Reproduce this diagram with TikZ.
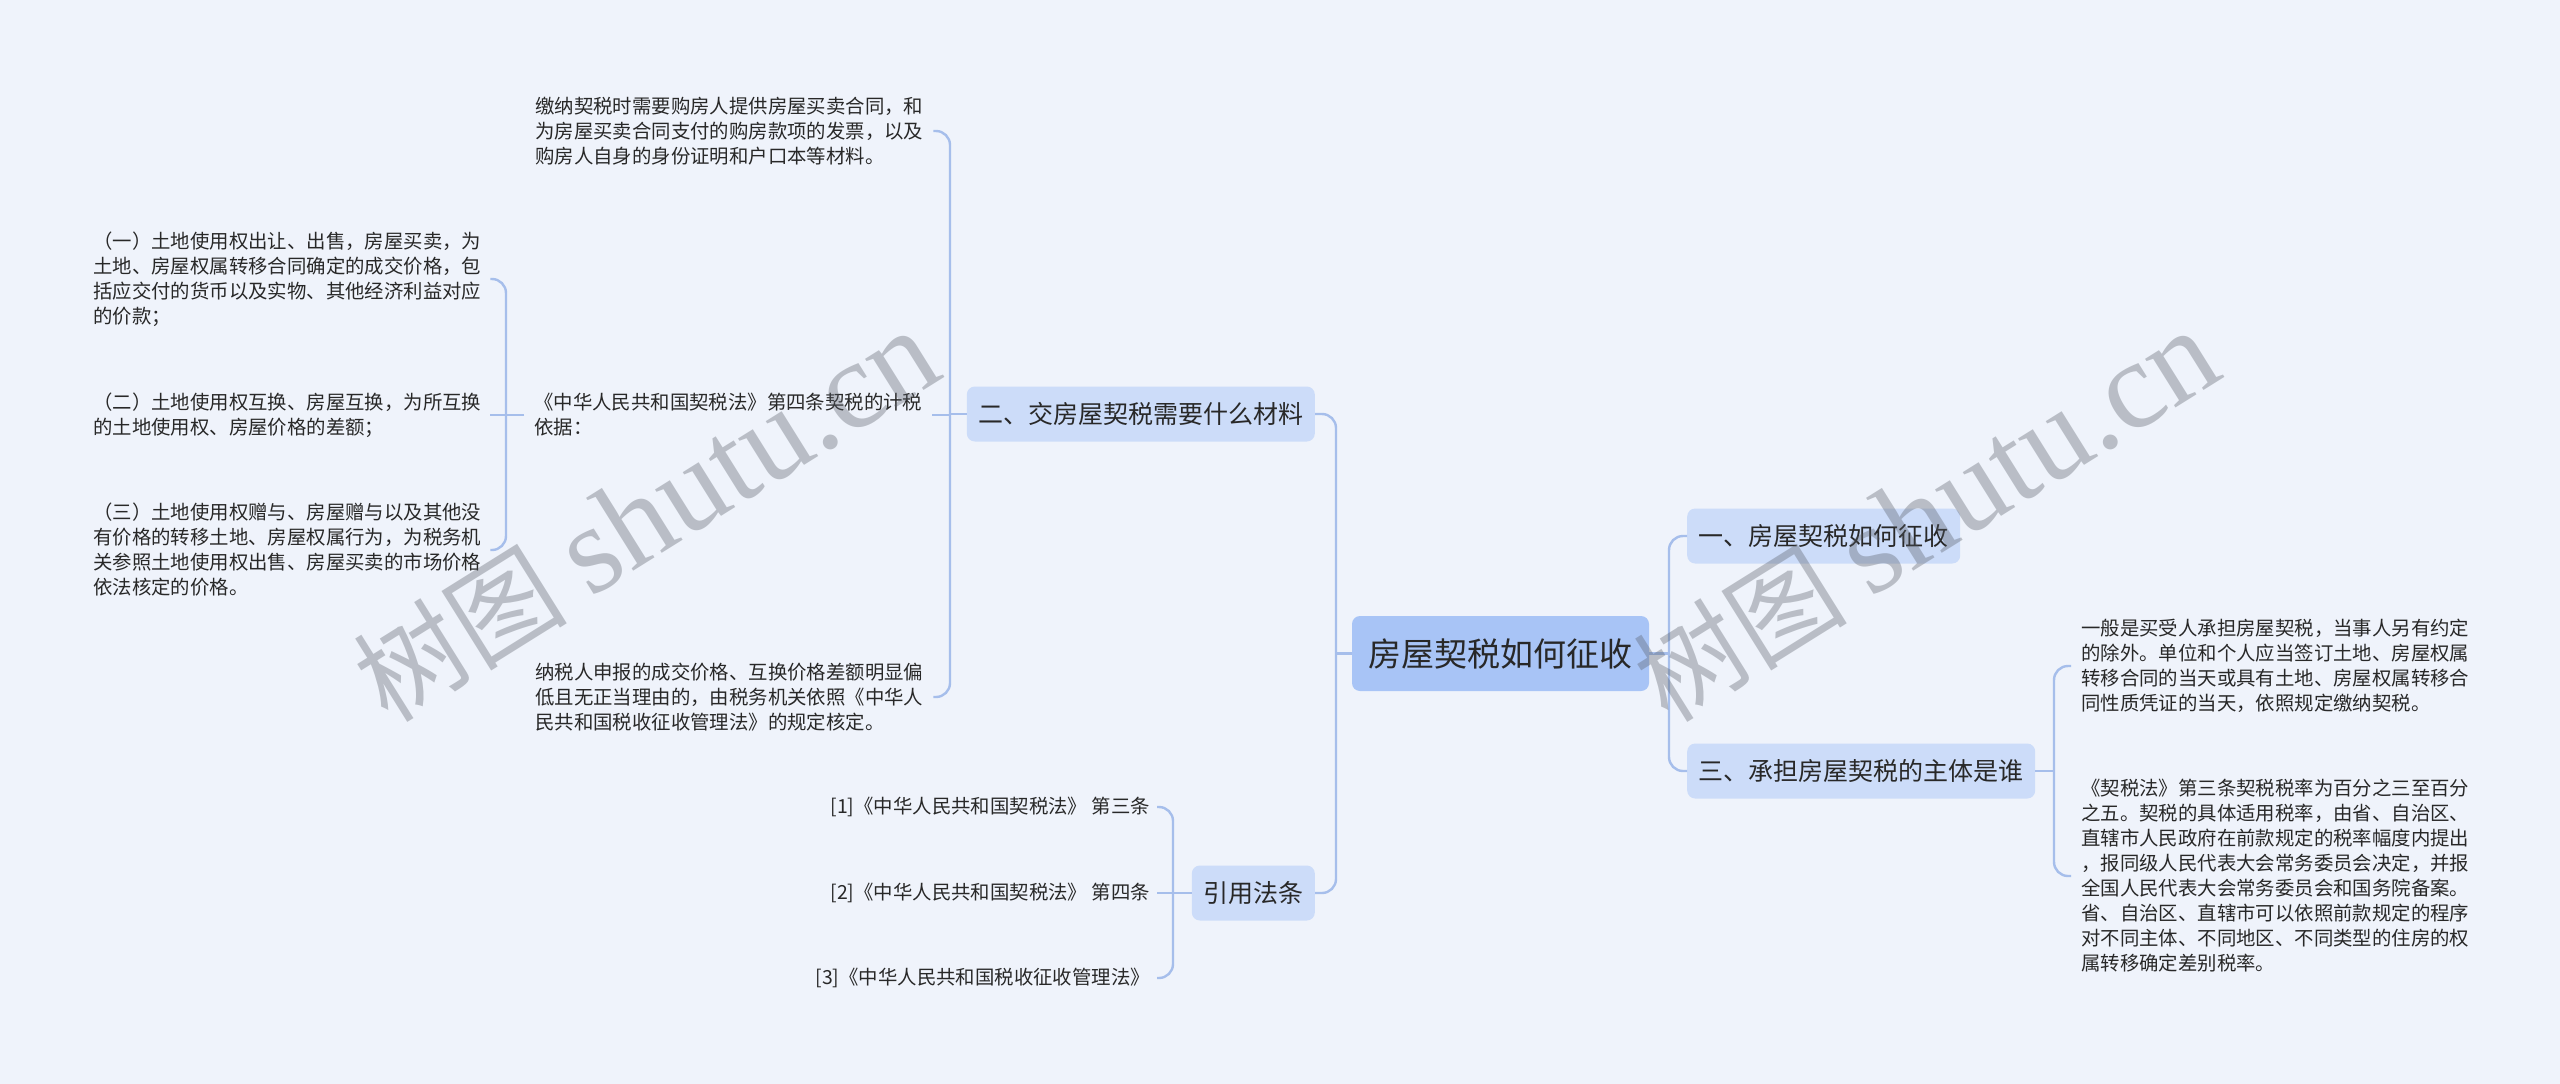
\documentclass[tikz,border=0pt]{standalone}
\usepackage{fontspec}
\setmainfont{Noto Sans CJK SC}
\newfontfamily\wmserif{Liberation Serif}
\usetikzlibrary{calc}
\definecolor{bg}{RGB}{239,243,251}
\definecolor{rootfill}{RGB}{168,196,246}
\definecolor{boxfill}{RGB}{204,220,249}
\definecolor{linec}{RGB}{166,190,235}
\definecolor{txt}{RGB}{40,40,40}
\definecolor{wm}{RGB}{85,90,100}
\begin{document}
\begin{tikzpicture}[x=1pt,y=-1pt,
 conn/.style={draw=linec, line width=2.4pt, rounded corners=14pt},
 rootbox/.style={fill=rootfill, rounded corners=8pt, font=\fontsize{33}{40}\selectfont, text=txt, inner xsep=16.5pt, minimum height=75pt},
 branch/.style={fill=boxfill, rounded corners=8pt, font=\fontsize{25}{30}\selectfont, text=txt, inner xsep=11.5pt, minimum height=55pt},
 leaf/.style={font=\fontsize{19.4}{25}\selectfont, text=txt, align=left, inner sep=0pt},
 wmark/.style={text=wm, opacity=0.35, rotate=32, inner sep=0pt}
]
\fill[bg] (0,0) rectangle (2560,1084);
\useasboundingbox (0,0) rectangle (2560,1084);

% main nodes
\node[rootbox] (root) at (1500.5,653.5) {房屋契税如何征收};
\node[branch, anchor=west] (b1) at (1687,536) {一、房屋契税如何征收};
\node[branch, anchor=west] (b3) at (1687,771) {三、承担房屋契税的主体是谁};
\node[branch, anchor=east] (b2) at (1315,414) {二、交房屋契税需要什么材料};
\node[branch, anchor=east] (b4) at (1315,893) {引用法条};

% leaves of b2
\node[leaf, anchor=west] (t1) at (535,131) {缴纳契税时需要购房人提供房屋买卖合同，和\\为房屋买卖合同支付的购房款项的发票，以及\\购房人自身的身份证明和户口本等材料。};
\node[leaf, anchor=west] (t2) at (534,415) {《中华人民共和国契税法》第四条契税的计税\\依据：};
\node[leaf, anchor=west] (t3) at (535,697) {纳税人申报的成交价格、互换价格差额明显偏\\低且无正当理由的，由税务机关依照《中华人\\民共和国税收征收管理法》的规定核定。};

% leaves of t2
\node[leaf, anchor=west] (l1) at (93,279) {（一）土地使用权出让、出售，房屋买卖，为\\土地、房屋权属转移合同确定的成交价格，包\\括应交付的货币以及实物、其他经济利益对应\\的价款；};
\node[leaf, anchor=west] (l2) at (93,415) {（二）土地使用权互换、房屋互换，为所互换\\的土地使用权、房屋价格的差额；};
\node[leaf, anchor=west] (l3) at (93,550) {（三）土地使用权赠与、房屋赠与以及其他没\\有价格的转移土地、房屋权属行为，为税务机\\关参照土地使用权出售、房屋买卖的市场价格\\依法核定的价格。};

% references
\node[leaf, anchor=east] (r1) at (1150,807) {[1]《中华人民共和国契税法》 第三条};
\node[leaf, anchor=east] (r2) at (1150,893) {[2]《中华人民共和国契税法》 第四条};
\node[leaf, anchor=east] (r3) at (1150,978) {[3]《中华人民共和国税收征收管理法》};

% leaves of b3
\node[leaf, anchor=west] (tA) at (2081,666) {一般是买受人承担房屋契税，当事人另有约定\\的除外。单位和个人应当签订土地、房屋权属\\转移合同的当天或具有土地、房屋权属转移合\\同性质凭证的当天，依照规定缴纳契税。};
\node[leaf, anchor=west] (tB) at (2081,876) {《契税法》第三条契税税率为百分之三至百分\\之五。契税的具体适用税率，由省、自治区、\\直辖市人民政府在前款规定的税率幅度内提出\\，报同级人民代表大会常务委员会决定，并报\\全国人民代表大会常务委员会和国务院备案。\\省、自治区、直辖市可以依照前款规定的程序\\对不同主体、不同地区、不同类型的住房的权\\属转移确定差别税率。};

% spine coordinates
\coordinate (s0) at (1336,653.5);
\coordinate (s1) at (1669,653.5);
\coordinate (s2) at (950,414);
\coordinate (s3) at (2054,771);
\coordinate (s4) at (1173,893);
\coordinate (s5) at (506,415);

% connectors
\draw[conn] (root.west) -- (s0);
\draw[conn] (b2.east) -| (s0) |- (b4.east);
\draw[conn] (root.east) -- (s1);
\draw[conn] (b1.west) -| (s1) |- (b3.west);

\draw[conn] (b2.west) -- (s2);
\draw[conn] ($(t1.east)+(10,0)$) -| (s2) |- ($(t3.east)+(10,0)$);
\draw[conn] ($(t2.east)+(10,0)$) -- (s2 |- t2.east);

\draw[conn] ($(t2.west)+(-10,0)$) -- (s5);
\draw[conn] ($(l1.east)+(9,0)$) -| (s5) |- ($(l3.east)+(9,0)$);
\draw[conn] ($(l2.east)+(9,0)$) -- (s5);

\draw[conn] (b4.west) -- (s4);
\draw[conn] ($(r1.east)+(7,0)$) -| (s4) |- ($(r3.east)+(7,0)$);
\draw[conn] ($(r2.east)+(7,0)$) -- (s4);

\draw[conn] (b3.east) -- (s3);
\draw[conn] ($(tA.west)+(-10,0)$) -| (s3) |- ($(tB.west)+(-10,0)$);

% watermarks
\node[wmark] (w1) at (646,516) {\fontsize{107}{110}\selectfont 树图 {\wmserif\fontsize{125}{130}\selectfont shutu.cn}};
\node[wmark] (w2) at (1926,516) {\fontsize{107}{110}\selectfont 树图 {\wmserif\fontsize{125}{130}\selectfont shutu.cn}};
\end{tikzpicture}
\end{document}
